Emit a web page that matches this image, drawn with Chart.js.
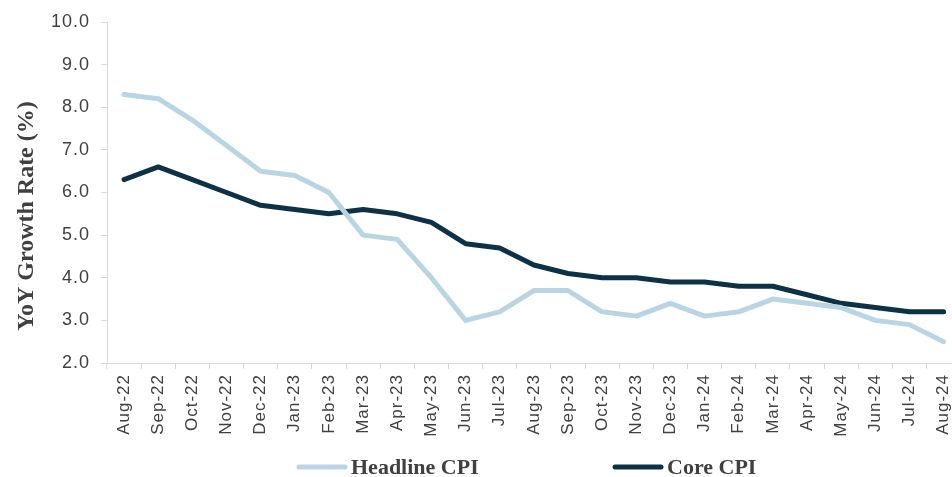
<!DOCTYPE html>
<html>
<head>
<meta charset="utf-8">
<script src="https://cdn.jsdelivr.net/npm/chart.js@4/dist/chart.umd.min.js"></script>
<style>
html,body{margin:0;padding:0;background:#fff;overflow:hidden;}
#wrap{width:969px;height:477px;}
</style>
</head>
<body>
<div id="wrap"><canvas id="c" width="969" height="477"></canvas></div>
<script>
const categories = ["Aug-22","Sep-22","Oct-22","Nov-22","Dec-22","Jan-23","Feb-23","Mar-23","Apr-23","May-23","Jun-23","Jul-23","Aug-23","Sep-23","Oct-23","Nov-23","Dec-23","Jan-24","Feb-24","Mar-24","Apr-24","May-24","Jun-24","Jul-24","Aug-24"];
const headlineCPI = [8.3,8.2,7.7,7.1,6.5,6.4,6.0,5.0,4.9,4.0,3.0,3.2,3.7,3.7,3.2,3.1,3.4,3.1,3.2,3.5,3.4,3.3,3.0,2.9,2.5];
const coreCPI = [6.3,6.6,6.3,6.0,5.7,5.6,5.5,5.6,5.5,5.3,4.8,4.7,4.3,4.1,4.0,4.0,3.9,3.9,3.8,3.8,3.6,3.4,3.3,3.2,3.2];
const seriesNames = ["Headline CPI","Core CPI"];
const axisTitle = "YoY Growth Rate (%)";

const headColor = "#b9d5e4";
const coreColor = "#0d3248";
const textColor = "#404040";
const axisColor = "#d9d9d9";

const spacing = {
  id: 'spacing',
  beforeUpdate(chart) { chart.ctx.letterSpacing = '1px'; },
  beforeLayout(chart) { chart.ctx.letterSpacing = '1px'; },
  beforeDraw(chart) { chart.ctx.letterSpacing = '1px'; }
};

const overlay = {
  id: 'overlay',
  afterDraw(chart) {
    const ctx = chart.ctx;
    ctx.save();
    ctx.letterSpacing = '0px';
    ctx.fillStyle = textColor;
    ctx.font = 'bold 24px "Liberation Serif", serif';
    ctx.textAlign = 'center';
    ctx.textBaseline = 'middle';
    ctx.translate(27, 216);
    ctx.rotate(-Math.PI/2);
    ctx.fillText(axisTitle, 0, 0);
    ctx.restore();

    ctx.save();
    ctx.letterSpacing = '0px';
    const items = [{x:297, ds:0},{x:613, ds:1}];
    const y = 467;
    items.forEach(it => {
      const ds = chart.data.datasets[it.ds];
      ctx.strokeStyle = ds.borderColor;
      ctx.lineWidth = 5;
      ctx.lineCap = 'round';
      ctx.beginPath();
      ctx.moveTo(it.x + 2, y);
      ctx.lineTo(it.x + 48, y);
      ctx.stroke();
      ctx.fillStyle = textColor;
      ctx.font = 'bold 22px "Liberation Serif", serif';
      ctx.textAlign = 'left';
      ctx.textBaseline = 'middle';
      ctx.fillText(ds.label, it.x + 54, y + 1);
    });
    ctx.restore();
  }
};

new Chart(document.getElementById('c'), {
  type: 'line',
  data: {
    labels: categories,
    datasets: [
      {label: seriesNames[0], data: headlineCPI, borderColor: headColor, backgroundColor: headColor, borderWidth: 5, pointRadius: 0, tension: 0, borderCapStyle: 'round', borderJoinStyle: 'round'},
      {label: seriesNames[1], data: coreCPI, borderColor: coreColor, backgroundColor: coreColor, borderWidth: 5, pointRadius: 0, tension: 0, borderCapStyle: 'round', borderJoinStyle: 'round'}
    ]
  },
  options: {
    responsive: false,
    animation: false,
    layout: {padding: {top: 22, right: 0, bottom: 40, left: 0}},
    plugins: {legend: {display: false}, tooltip: {enabled: false}},
    scales: {
      x: {
        type: 'category',
        offset: true,
        grid: {offset: true, drawOnChartArea: false, drawTicks: true, tickLength: 6, color: axisColor},
        border: {color: axisColor, width: 1},
        ticks: {minRotation: 90, maxRotation: 90, autoSkip: false, padding: 5, color: textColor, font: {family: '"Liberation Sans", Arial, sans-serif', size: 17}},
        afterFit(scale) { scale.height = 74; }
      },
      y: {
        min: 2, max: 10,
        grid: {drawOnChartArea: false, drawTicks: true, tickLength: 6, color: axisColor},
        border: {color: axisColor, width: 1},
        ticks: {stepSize: 1, padding: 11, color: textColor, font: {family: '"Liberation Sans", Arial, sans-serif', size: 18}, callback: v => Number(v).toFixed(1)},
        afterFit(scale) { scale.width = 107; }
      }
    }
  },
  plugins: [spacing, overlay]
});
</script>
</body>
</html>
